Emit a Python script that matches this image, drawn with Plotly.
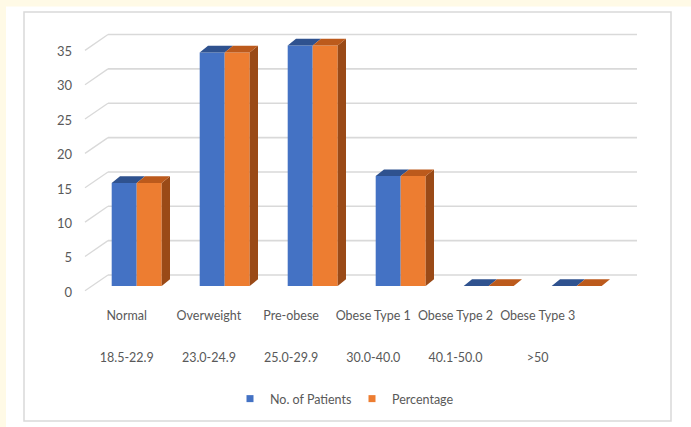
import plotly.graph_objects as go

# ---------------- data ----------------
categories = ["Normal", "Overweight", "Pre-obese", "Obese Type 1", "Obese Type 2", "Obese Type 3"]
bmi_ranges = ["18.5-22.9", "23.0-24.9", "25.0-29.9", "30.0-40.0", "40.1-50.0", ">50"]
patients = [15, 34, 35, 16, 0, 0]
percentage = [15, 34, 35, 16, 0, 0]
y_ticks = [0, 5, 10, 15, 20, 25, 30, 35]
series_names = ["No. of Patients", "Percentage"]

# ---------------- style / geometry ----------------
W, H = 691, 427
X0, X1 = 80, 650            # plot area (px)
YTOP, YBOT = 25, 300
CAT0, CSTEP = 136.7, 88.0    # category centre px / step
ZERO, UNIT = 286.0, 6.87     # value 0 px / px per unit
LAB0, LSTEP = 126.7, 82.2    # perspective label positions

xr = [(X0 - CAT0) / CSTEP, (X1 - CAT0) / CSTEP]
yr = [(ZERO - YBOT) / UNIT, (ZERO - YTOP) / UNIT]
x2r = [(X0 - LAB0) / LSTEP, (X1 - LAB0) / LSTEP]

bw = 25 / CSTEP
ddx = 8.3 / CSTEP
ddy = 6.7 / UNIT

BLUE, BLUE_TOP = "#4472C4", "#2F528F"
ORANGE, ORANGE_TOP, ORANGE_SIDE = "#ED7D31", "#BC5A1C", "#9A4A17"
TXT = "#595959"
GRID = "#D9D9D9"
FONT = "Lato"

xs = list(range(len(categories)))


def top_faces(vals, shift):
    px, py = [], []
    for i, v in zip(xs, vals):
        a = i + shift
        px += [a, a + bw, a + bw + ddx, a + ddx, a, None]
        py += [v, v, v + ddy, v + ddy, v, None]
    return px, py


def side_faces(vals, shift):
    px, py = [], []
    for i, v in zip(xs, vals):
        if v <= 0:
            continue
        a = i + shift + bw
        px += [a, a, a + ddx, a + ddx, a, None]
        py += [0, v, v + ddy, ddy, 0, None]
    return px, py


fig = go.Figure()

# front faces
fig.add_trace(go.Bar(x=xs, y=patients, width=bw, offset=-bw, marker=dict(color=BLUE, line=dict(width=0)),
                     showlegend=False, name=series_names[0]))
fig.add_trace(go.Bar(x=xs, y=percentage, width=bw, offset=0, marker=dict(color=ORANGE, line=dict(width=0)),
                     showlegend=False, name=series_names[1]))

# 3D side and top faces
sx, sy = side_faces(percentage, 0)
fig.add_trace(go.Scatter(x=sx, y=sy, fill="toself", mode="lines", line=dict(width=0, color=ORANGE_SIDE),
                         fillcolor=ORANGE_SIDE, showlegend=False, hoverinfo="skip"))
tx, ty = top_faces(patients, -bw)
fig.add_trace(go.Scatter(x=tx, y=ty, fill="toself", mode="lines", line=dict(width=0, color=BLUE_TOP),
                         fillcolor=BLUE_TOP, showlegend=False, hoverinfo="skip"))
tx, ty = top_faces(percentage, 0)
fig.add_trace(go.Scatter(x=tx, y=ty, fill="toself", mode="lines", line=dict(width=0, color=ORANGE_TOP),
                         fillcolor=ORANGE_TOP, showlegend=False, hoverinfo="skip"))

# invisible anchors for label axes
for ax in ["x2", "x3"]:
    fig.add_trace(go.Scatter(x=xs, y=[0] * len(xs), xaxis=ax, yaxis="y", mode="markers",
                             marker=dict(opacity=0), showlegend=False, hoverinfo="skip"))

# legend proxies (one legend each so they can be placed like the original)
for nm, col, lg in zip(series_names, [BLUE, ORANGE], ["legend", "legend2"]):
    fig.add_trace(go.Scatter(x=[None], y=[None], mode="markers", name=nm, legend=lg,
                             marker=dict(symbol="square", size=7, color=col)))

# gridlines (back wall + floor diagonals)
xf = (85 - CAT0) / CSTEP
xb = (108 - CAT0) / CSTEP
xe = (637 - CAT0) / CSTEP
FO, BO = -0.7, 1.6
shapes = []
for v in y_ticks:
    shapes.append(dict(type="line", xref="x", yref="y", x0=xf, y0=v + FO, x1=xb, y1=v + BO,
                       line=dict(color=GRID, width=1.3), layer="below"))
    shapes.append(dict(type="line", xref="x", yref="y", x0=xb, y0=v + BO, x1=xe, y1=v + BO,
                       line=dict(color=GRID, width=1.6), layer="below"))

# page decorations
shapes.append(dict(type="rect", xref="paper", yref="paper", x0=0, x1=1, y0=1 - 6.5 / H, y1=1,
                   fillcolor="#FFFAE6", line=dict(width=0), layer="below"))
shapes.append(dict(type="rect", xref="paper", yref="paper", x0=0, x1=6 / W, y0=0, y1=1,
                   fillcolor="#FFFAE6", line=dict(width=0), layer="below"))
shapes.append(dict(type="rect", xref="paper", yref="paper", x0=24 / W, x1=671 / W, y0=1 - 421 / H, y1=1 - 12 / H,
                   fillcolor="rgba(0,0,0,0)", line=dict(color=GRID, width=1.5), layer="below"))

legend_common = dict(orientation="h", yanchor="middle", y=1 - 399 / H, xanchor="left",
                     font=dict(size=12.5, color=TXT), bgcolor="rgba(0,0,0,0)", itemwidth=30)

fig.update_layout(
    width=W, height=H,
    margin=dict(l=0, r=0, t=0, b=0),
    paper_bgcolor="white", plot_bgcolor="rgba(0,0,0,0)",
    font=dict(family=FONT, color=TXT, size=13),
    barmode="overlay",
    shapes=shapes,
    xaxis=dict(domain=[X0 / W, X1 / W], range=xr, visible=False, fixedrange=True),
    yaxis=dict(domain=[1 - YBOT / H, 1 - YTOP / H], range=yr, tickvals=y_ticks, showgrid=False,
               zeroline=False, showline=False, ticks="", ticklabelshift=6, ticklabelstandoff=7,
               tickfont=dict(size=13, color=TXT)),
    xaxis2=dict(overlaying="x", anchor="free", position=1 - 306 / H, range=x2r, tickvals=xs,
                ticktext=categories, showgrid=False, zeroline=False, showline=False, ticks="",
                tickfont=dict(size=12.5, color=TXT)),
    xaxis3=dict(overlaying="x", anchor="free", position=1 - 348 / H, range=x2r, tickvals=xs,
                ticktext=bmi_ranges, showgrid=False, zeroline=False, showline=False, ticks="",
                tickfont=dict(size=12.5, color=TXT)),
    legend=dict(legend_common, x=(250 - 20) / W),
    legend2=dict(legend_common, x=(372 - 20) / W),
    hovermode=False,
)

fig.write_html("out.html")
